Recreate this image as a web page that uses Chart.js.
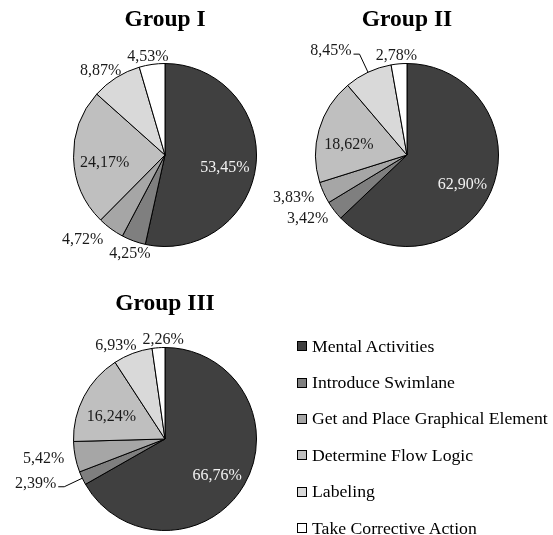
<!DOCTYPE html>
<html>
<head>
<meta charset="utf-8">
<script src="https://cdn.jsdelivr.net/npm/chart.js@4/dist/chart.umd.min.js"></script>
<style>
    body { margin: 0; background: #fff; width: 553px; height: 535px; position: relative; overflow: hidden;
           font-family: "Liberation Serif", "Times New Roman", serif; }
    canvas { position: absolute; }
    #legend { position: absolute; left: 297px; top: 328px; }
    .item { height: 36.4px; display: flex; align-items: center; font-size: 17.7px; color: #000; white-space: nowrap; }
    .box { width: 8px; height: 8px; border: 1px solid #000; margin-right: 5px; }
</style>
</head>
<body>
<canvas id="pie1" width="330" height="270" style="left:0;top:0"></canvas>
<canvas id="pie2" width="276" height="270" style="left:269px;top:0"></canvas>
<canvas id="pie3" width="330" height="251" style="left:0;top:284px"></canvas>
<div id="legend"></div>
<script>
const categories = ['Mental Activities', 'Introduce Swimlane', 'Get and Place Graphical Element',
    'Determine Flow Logic', 'Labeling', 'Take Corrective Action'];
const groupTitles = ['Group I', 'Group II', 'Group III'];
const groupI = [53.45, 4.25, 4.72, 24.17, 8.87, 4.53];
const groupII = [62.90, 3.42, 3.83, 18.62, 8.45, 2.78];
const groupIII = [66.76, 2.39, 5.42, 16.24, 6.93, 2.26];

const sliceColors = ['#404040', '#7f7f7f', '#a6a6a6', '#bfbfbf', '#d9d9d9', '#ffffff'];

// percent labels: big slices inside, small ones outside, some with a leader line
const sliceLabels = {
    id: 'sliceLabels',
    afterDatasetsDraw(chart, args, opts) {
        const ctx = chart.ctx;
        const meta = chart.getDatasetMeta(0);
        const values = chart.data.datasets[0].data;
        const leaders = opts.leaders || [];
        const outside = [];
        ctx.save();
        ctx.font = '16px "Liberation Serif"';
        ctx.textBaseline = 'middle';
        meta.data.forEach((arc, i) => {
            const p = arc.getProps(['x', 'y', 'startAngle', 'endAngle', 'outerRadius'], true);
            const mid = (p.startAngle + p.endAngle) / 2;
            const dx = Math.cos(mid), dy = Math.sin(mid);
            const r = p.outerRadius;
            const text = values[i].toFixed(2).replace('.', ',') + '%';
            const w = ctx.measureText(text).width;
            if (values[i] > 15) {
                ctx.fillStyle = i === 0 ? '#f2f2f2' : '#1a1a1a';
                ctx.textAlign = 'center';
                ctx.fillText(text, p.x + dx * r * 0.66, p.y + dy * r * 0.66 + 6);
            } else if (leaders.includes(i)) {
                const side = dx < 0 ? -1 : 1;
                const px = p.x + dx * (r + 20), py = p.y + dy * (r + 20);
                ctx.strokeStyle = '#000';
                ctx.lineWidth = 1;
                ctx.beginPath();
                ctx.moveTo(p.x + dx * r, p.y + dy * r);
                ctx.lineTo(px, py);
                ctx.lineTo(px + side * 6, py);
                ctx.stroke();
                ctx.fillStyle = '#1a1a1a';
                ctx.textAlign = side < 0 ? 'right' : 'left';
                ctx.fillText(text, px + side * 8, py - 3);
            } else {
                const gap = 11 + 3 * dy;
                outside.push({
                    text, w, h: 16,
                    cx: p.x + dx * (r + gap) + dx * w / 2,
                    cy: p.y + dy * (r + gap)
                });
            }
        });
        // push neighbouring outside labels apart when they crowd each other
        for (let k = 0; k + 1 < outside.length; k++) {
            const a = outside[k], b = outside[k + 1];
            if (Math.abs(a.cy - b.cy) < a.h + 2) {
                const need = (a.w + b.w) / 2 + 6 - Math.abs(a.cx - b.cx);
                if (need > 0) {
                    const s = a.cx >= b.cx ? 1 : -1;
                    a.cx += s * need / 2;
                    b.cx -= s * need / 2;
                }
            }
        }
        ctx.fillStyle = '#1a1a1a';
        ctx.textAlign = 'center';
        outside.forEach(l => ctx.fillText(l.text, l.cx, l.cy));
        ctx.restore();
    }
};

function makePie(id, title, values, leaders, bottomPad) {
    new Chart(document.getElementById(id), {
        type: 'pie',
        data: {
            labels: categories,
            datasets: [{
                data: values,
                backgroundColor: sliceColors,
                borderColor: '#000',
                borderWidth: 1
            }]
        },
        options: {
            responsive: false,
            animation: false,
            events: [],
            layout: { padding: { bottom: bottomPad } },
            plugins: {
                legend: { display: false },
                tooltip: { enabled: false },
                title: {
                    display: true,
                    text: title,
                    color: '#000',
                    font: { family: 'Liberation Serif', size: 23.5, weight: 'bold' },
                    padding: { top: 6, bottom: 28.8 }
                },
                sliceLabels: { leaders: leaders }
            }
        },
        plugins: [sliceLabels]
    });
}

makePie('pie1', groupTitles[0], groupI, [], 23);
makePie('pie2', groupTitles[1], groupII, [4], 23);
makePie('pie3', groupTitles[2], groupIII, [1], 4);

const legend = document.getElementById('legend');
categories.forEach((name, i) => {
    const row = document.createElement('div');
    row.className = 'item';
    const box = document.createElement('span');
    box.className = 'box';
    box.style.background = sliceColors[i];
    row.appendChild(box);
    row.appendChild(document.createTextNode(name));
    legend.appendChild(row);
});
</script>
</body>
</html>
